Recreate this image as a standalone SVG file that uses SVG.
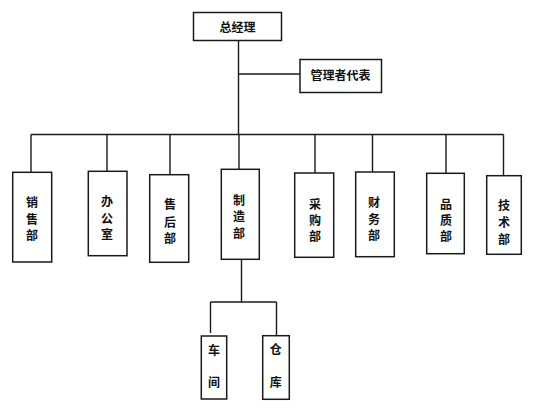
<svg xmlns="http://www.w3.org/2000/svg" width="541" height="415" viewBox="0 0 541 415">
<style>
.box{fill:#fff;stroke:#1a1a1a;stroke-width:1.5}
.ln{fill:none;stroke:#1a1a1a;stroke-width:1.4}
text{font-family:"Noto Sans CJK SC","Liberation Sans",sans-serif;font-size:12px;font-weight:bold;fill:#111;text-anchor:middle;dominant-baseline:central}
</style>
<rect width="541" height="415" fill="#fff"/>
<g id="connectors">
<path class="ln" d="M238.5 41V134.5M238.5 74H300"/>
<path class="ln" d="M31 134.5H503.5"/>
<path class="ln" d="M31 134.5V172M107 134.5V171M170 134.5V175M239 134.5V169M315 134.5V173M372.5 134.5V172M446 134.5V173M503.5 134.5V176"/>
<path class="ln" d="M241.5 259V302M210.5 302H276.5M210.5 302V333M276.5 302V336"/>
</g>
<g id="n-gm"><rect class="box" x="193.5" y="12.5" width="88" height="28"/><text x="237.5" y="26">总经理</text></g>
<g id="n-rep"><rect class="box" x="300" y="59.5" width="81.5" height="33"/><text x="340.5" y="74">管理者代表</text></g>
<g id="n-sales"><rect class="box" x="12.7" y="172.3" width="39" height="89.7"/><text x="32" y="201.7">销</text><text x="32" y="218.3">售</text><text x="32" y="234.5">部</text></g>
<g id="n-office"><rect class="box" x="88.3" y="171.3" width="38.7" height="84.4"/><text x="107" y="200">办</text><text x="107" y="217">公</text><text x="107" y="233">室</text></g>
<g id="n-after"><rect class="box" x="149.7" y="174.7" width="39" height="87.6"/><text x="170" y="203">售</text><text x="170" y="221">后</text><text x="170" y="237">部</text></g>
<g id="n-mfg"><rect class="box" x="221.3" y="169.3" width="38" height="90"/><text x="239" y="199">制</text><text x="239" y="215">造</text><text x="239" y="232">部</text></g>
<g id="n-purch"><rect class="box" x="294.7" y="173" width="39" height="84.3"/><text x="315" y="203">采</text><text x="315" y="219">购</text><text x="315" y="235">部</text></g>
<g id="n-fin"><rect class="box" x="355.7" y="172" width="38.6" height="84.7"/><text x="374" y="201">财</text><text x="374" y="218">务</text><text x="374" y="234">部</text></g>
<g id="n-qa"><rect class="box" x="426.7" y="173.3" width="37.6" height="80.4"/><text x="446" y="203">品</text><text x="446" y="219">质</text><text x="446" y="235">部</text></g>
<g id="n-tech"><rect class="box" x="486.7" y="175.7" width="34.6" height="78.6"/><text x="504" y="204">技</text><text x="504" y="221">术</text><text x="504" y="238">部</text></g>
<g id="n-workshop"><rect class="box" x="201.3" y="336" width="25.4" height="63"/><text x="214" y="349.3">车</text><text x="214" y="381.7">间</text></g>
<g id="n-store"><rect class="box" x="262.7" y="335.7" width="26.6" height="63.6"/><text x="275.7" y="348.7">仓</text><text x="275.7" y="381.7">库</text></g>
</svg>
